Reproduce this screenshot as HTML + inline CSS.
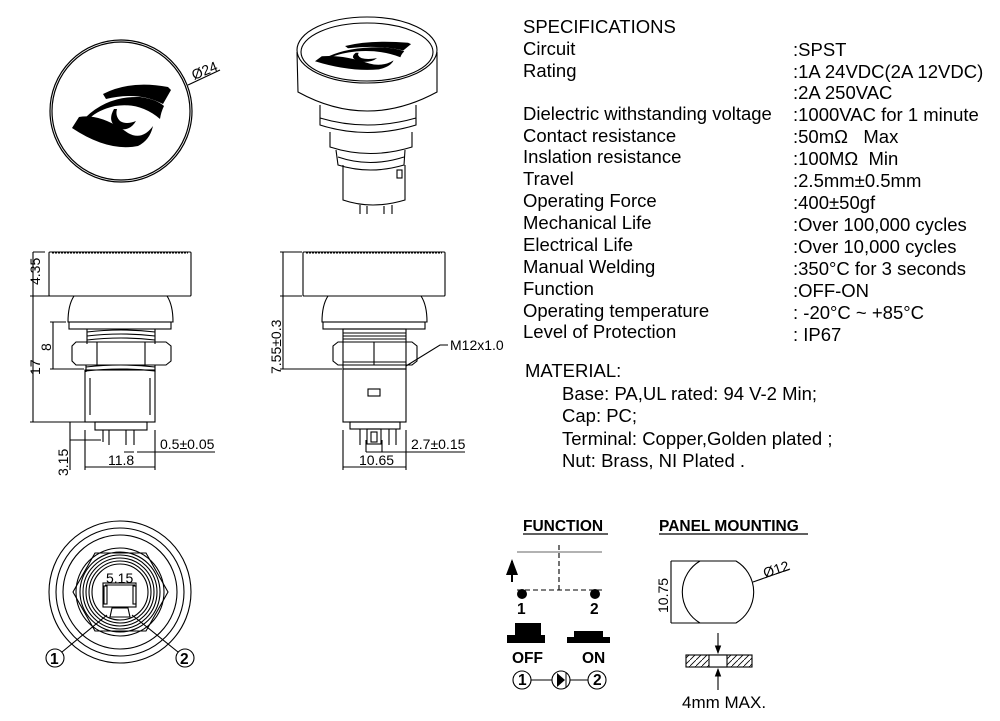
<!DOCTYPE html>
<html><head><meta charset="utf-8"><style>
html,body{margin:0;padding:0;background:#fff;}
svg{display:block;}
.t{font-family:"Liberation Sans",Arial,sans-serif;font-size:18.5px;fill:#000;}
.d{font-family:"Liberation Sans",Arial,sans-serif;font-size:14px;fill:#000;}
.b{font-family:"Liberation Sans",Arial,sans-serif;font-size:15.5px;font-weight:bold;fill:#000;}
</style></head><body>
<svg width="1000" height="721" viewBox="0 0 1000 721" xmlns="http://www.w3.org/2000/svg">
<defs>
<pattern id="h" width="6" height="6" patternUnits="userSpaceOnUse"><path d="M0 6 L6 0" stroke="#000" stroke-width="0.8"/></pattern>
<marker id="ar" markerWidth="8" markerHeight="8" refX="7" refY="4" orient="auto"><path d="M0 1 L8 4 L0 7Z" fill="#000"/></marker>
<g id="logo">
<path d="M103 94 Q130 80 168 87 L171 90 Q167 97 163 104 Q138 91 106 99 Z"/>
<path d="M86 117 Q108 96 140 97 Q156 99 164 106 Q161 112 160 119 Q140 102 115 106 Q98 110 90 118 Z"/>
<path d="M72 128 L79 117 Q100 113 128 133 Q142 141 153 126 Q150 140 138 146 Q108 152 72 128 Z"/>
<path d="M114 109 Q106 123 120 129 Q130 131 136 121 Q126 125 120 121 Q115 116 117 109 Z"/>
</g>
</defs>
<g fill="none" stroke="#000" stroke-width="1.2">
<circle cx="121" cy="111" r="71"/><circle cx="121" cy="111" r="69"/>
<line x1="188" y1="85" x2="220" y2="70"/>
</g>
<text class="d" x="194" y="80" transform="rotate(-22 194 80)">Ø24</text>
<use href="#logo" fill="#000"/>
<!-- perspective -->
<g fill="none" stroke="#000" stroke-width="1.1">
<ellipse cx="367" cy="50" rx="70" ry="33"/>
<ellipse cx="367" cy="52" rx="66" ry="29"/>
<path d="M297 52 L298 92 Q367 130 437 92 L437 52"/>
<path d="M320 105 L320 125 Q367 140 416 125 L416 105"/>
<path d="M320 118 Q367 132 416 118"/>
<path d="M330 132 L330 147 Q370 160 412 147 L412 132"/>
<path d="M336 150 L338 165 Q370 175 404 165 L405 150"/>
<path d="M338 157 Q370 168 404 157"/>
<path d="M343 165 L343 200 Q372 210 405 200 L405 165"/>
<path d="M360 205 L360 214 M367 206 L367 214 M384 206 L384 214 M392 205 L392 214"/>
<rect x="397" y="170" width="5" height="8"/>
</g>
<use href="#logo" fill="#000" transform="translate(315 41) scale(0.97 0.45) translate(-72 -83)"/>
<!-- side view 1 -->
<g fill="none" stroke="#000" stroke-width="1.1">
<rect x="49" y="252" width="142" height="44" rx="1"/>
<line x1="52" y1="253" x2="188" y2="253" stroke-dasharray="2 1"/>
<path d="M74 296 Q68 305 68 322 L173 322 Q173 305 167 296"/>
<rect x="69" y="322" width="102" height="7"/>
<path d="M87 329 L87 344 M155 329 L155 344"/>
<path d="M87 332 Q121 328 155 332 M87 336 Q121 332 155 336 M87 340 Q121 336 155 340"/>
<path d="M76 342 L166 342 L171 346 L171 361 L166 365 L76 365 L72 361 L72 346Z"/>
<path d="M97 342 L97 365 M145 342 L145 365"/>
<path d="M86 365 L86 372 M155 365 L155 372"/>
<path d="M86 367 Q121 363 155 367 M86 371 Q121 367 155 371"/>
<rect x="85" y="370" width="70" height="52"/>
<line x1="90" y1="378" x2="90" y2="415"/><line x1="150" y1="378" x2="150" y2="415"/>
<rect x="95" y="422" width="52" height="8"/>
<path d="M103 430 L103 442 M109 430 L109 445 M126 430 L126 445 M134 430 L134 445"/>
<path d="M33 252 L33 422 M30 296 L64 296 M30 422 L95 422 M33 252 L45 252"/>
<path d="M53 322 L53 369 M50 322 L66 322 M50 369 L84 369"/>
<path d="M70 422 L70 470 M70 440 L101 440"/>
<path d="M85 430 L85 470 M155 430 L155 470 M85 467 L155 467"/>
<path d="M124 452 L134 452 M137 452 L215 452"/>
</g>
<text class="d" x="40" y="285" transform="rotate(-90 40 285)">4.35</text>
<text class="d" x="40" y="375" transform="rotate(-90 40 375)">17</text>
<text class="d" x="51" y="351" transform="rotate(-90 51 351)">8</text>
<text class="d" x="68" y="476" transform="rotate(-90 68 476)">3.15</text>
<text class="d" x="108" y="465">11.8</text>
<text class="d" x="160" y="449">0.5±0.05</text>
<!-- side view 2 -->
<g fill="none" stroke="#000" stroke-width="1.1">
<rect x="303" y="252" width="142" height="44" rx="1"/>
<line x1="306" y1="253" x2="442" y2="253" stroke-dasharray="2 1"/>
<path d="M328 296 Q322 305 322 322 L427 322 Q427 305 421 296"/>
<rect x="323" y="322" width="102" height="7"/>
<rect x="343" y="329" width="63" height="40"/>
<path d="M343 333 L406 333 M343 336 L406 336 M343 339 L406 339 M343 362 L406 362 M343 365 L406 365"/>
<path d="M338 342 L412 342 L417 346 L417 361 L412 365 L338 365 L333 361 L333 346Z"/>
<path d="M374 342 L374 365"/>
<rect x="343" y="369" width="63" height="53"/>
<rect x="368" y="389" width="12" height="7"/>
<rect x="350" y="422" width="50" height="7"/>
<rect x="367" y="429" width="14" height="15"/>
<rect x="371" y="432" width="6" height="10"/>
<path d="M360 429 L360 445 M389 429 L389 445 M396 429 L396 445"/>
<path d="M283 252 L283 369 M280 252 L302 252 M280 296 L302 296 M280 369 L342 369"/>
<path d="M343 430 L343 470 M406 430 L406 470 M343 467 L406 467"/>
<path d="M366 440 L366 452 M382 440 L382 452 M366 452 L382 452 M382 452 L465 452"/>
<path d="M406 366 L440 345 L448 345"/>
</g>
<text class="d" x="281" y="374" transform="rotate(-90 281 374)">7.55±0.3</text>
<text class="d" x="450" y="350">M12x1.0</text>
<text class="d" x="359" y="465">10.65</text>
<text class="d" x="411" y="449">2.7±0.15</text>
<!-- bottom view -->
<g fill="none" stroke="#000" stroke-width="1.1">
<circle cx="120" cy="592" r="71"/><circle cx="120" cy="592" r="64"/><circle cx="120" cy="592" r="57"/>
<path d="M95 553 L146 553 L168 592 L146 631 L95 631 L73 592Z"/>
<circle cx="120" cy="592" r="44"/><circle cx="120" cy="592" r="40"/>
<circle cx="120" cy="592" r="37"/><circle cx="120" cy="592" r="34"/>
<circle cx="120" cy="592" r="31"/><circle cx="120" cy="592" r="28"/>
<rect x="103" y="583" width="33" height="24"/>
<rect x="104" y="586" width="3" height="18"/><rect x="133" y="586" width="3" height="18"/>
<path d="M112 608 L128 608 L130 617 L110 617Z"/>
<line x1="105" y1="585" x2="135" y2="585"/>
<path d="M62 652 L107 615 M178 652 L132 615"/>
<circle cx="55" cy="658" r="9"/><circle cx="185" cy="658" r="9"/>
</g>
<text class="d" x="106" y="583">5.15</text>
<text class="b" x="50" y="664">1</text><text class="b" x="180" y="664">2</text>
<!-- specs -->
<g class="t">
<text x="523" y="33">SPECIFICATIONS</text>
<text x="523" y="55">Circuit</text><text x="793" y="56">:SPST</text>
<text x="523" y="77">Rating</text><text x="793" y="78">:1A 24VDC(2A 12VDC)</text>
<text x="793" y="99">:2A 250VAC</text>
<text x="523" y="120">Dielectric withstanding voltage</text><text x="793" y="121">:1000VAC for 1 minute</text>
<text x="523" y="142">Contact resistance</text><text x="793" y="143">:50mΩ&#160;&#160; Max</text>
<text x="523" y="163">Inslation resistance</text><text x="793" y="165">:100MΩ&#160; Min</text>
<text x="523" y="185">Travel</text><text x="793" y="187">:2.5mm±0.5mm</text>
<text x="523" y="207">Operating Force</text><text x="793" y="209">:400±50gf</text>
<text x="523" y="229">Mechanical Life</text><text x="793" y="231">:Over 100,000 cycles</text>
<text x="523" y="251">Electrical Life</text><text x="793" y="253">:Over 10,000 cycles</text>
<text x="523" y="273">Manual Welding</text><text x="793" y="275">:350°C for 3 seconds</text>
<text x="523" y="295">Function</text><text x="793" y="297">:OFF-ON</text>
<text x="523" y="317">Operating temperature</text><text x="793" y="319">: -20°C ~ +85°C</text>
<text x="523" y="338">Level of Protection</text><text x="793" y="341">: IP67</text>
<text x="525" y="377">MATERIAL:</text>
<text x="562" y="400">Base: PA,UL rated: 94 V-2 Min;</text>
<text x="562" y="422">Cap: PC;</text>
<text x="562" y="445">Terminal: Copper,Golden plated ;</text>
<text x="562" y="467">Nut: Brass, NI Plated .</text>
</g>
<!-- function -->
<text class="b" x="523" y="531">FUNCTION</text>
<line x1="523" y1="534" x2="608" y2="534" stroke="#000" stroke-width="1.2"/>
<text class="b" x="659" y="531">PANEL MOUNTING</text>
<line x1="659" y1="534" x2="808" y2="534" stroke="#000" stroke-width="1.2"/>
<g fill="none" stroke="#000" stroke-width="1.1">
<line x1="517" y1="552" x2="602" y2="552" stroke="#666"/>
<line x1="559" y1="545" x2="559" y2="590" stroke-dasharray="5 3"/>
<line x1="517" y1="590" x2="602" y2="590" stroke-dasharray="5 3"/>
<line x1="512" y1="582" x2="512" y2="561" stroke-width="2" marker-end="url(#ar)"/>
<path d="M531 680 L552 680 M570 680 L588 680"/>
<circle cx="522" cy="680" r="9"/><circle cx="561" cy="680" r="9"/><circle cx="597" cy="680" r="9"/>
</g>
<circle cx="522" cy="594" r="5" fill="#000"/><circle cx="595" cy="594" r="5" fill="#000"/>
<text class="b" x="517" y="614">1</text><text class="b" x="590" y="614">2</text>
<path d="M515 623 L541 623 L541 635 L545 635 L545 643 L507 643 L507 635 L515 635Z" fill="#000"/>
<path d="M574 631 L603 631 L603 637 L610 637 L610 643 L567 643 L567 637 L574 637Z" fill="#000"/>
<text class="b" x="512" y="663">OFF</text><text class="b" x="582" y="663">ON</text>
<path d="M557 673 L565 680 L557 687Z" fill="#000"/><line x1="566" y1="672" x2="566" y2="688" stroke="#000"/>
<text class="b" x="518" y="685" font-size="11">1</text><text class="b" x="593" y="685" font-size="11">2</text>
<!-- panel -->
<g fill="none" stroke="#000" stroke-width="1.1">
<path d="M700 561 L736 561 A36 36 0 0 1 736 623 L700 623 A36 36 0 0 1 700 561Z"/>
<path d="M671 561 L700 561 M671 623 L700 623 M671 561 L671 623"/>
<path d="M753 582 L790 569"/>
<rect x="686" y="655" width="66" height="12" fill="url(#h)"/>
<rect x="709" y="655" width="18" height="12" fill="#fff"/>
<line x1="718" y1="633" x2="718" y2="653" marker-end="url(#ar)"/>
<line x1="718" y1="690" x2="718" y2="669" marker-end="url(#ar)"/>
</g>
<text class="d" x="668" y="613" transform="rotate(-90 668 613)">10.75</text>
<text class="d" x="765" y="578" transform="rotate(-18 765 578)">Ø12</text>
<text class="t" x="682" y="708" style="font-size:17px">4mm MAX.</text>
</svg>
</body></html>
